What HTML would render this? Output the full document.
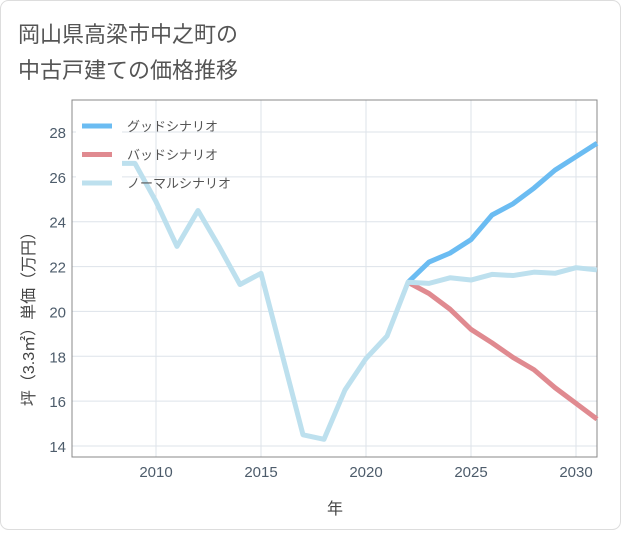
<!DOCTYPE html>
<html><head><meta charset="utf-8"><style>
body{margin:0;background:#fff;font-family:"Liberation Sans","Noto Sans CJK JP",sans-serif;}
</style></head><body>
<svg width="621" height="530" xmlns="http://www.w3.org/2000/svg" style="font-family:'Liberation Sans','Noto Sans CJK JP',sans-serif">
<rect x="0.5" y="0.5" width="620" height="529" rx="8" fill="#fff" stroke="#ddd"/>
<text x="18" y="42" font-size="22" fill="#555">岡山県高梁市中之町の</text>
<text x="18" y="78" font-size="22" fill="#555">中古戸建ての価格推移</text>
<g id="grid"></g>
<g id="axes"></g>
<g id="series"></g>
<g id="legend"></g>
<text x="335" y="514" font-size="16" fill="#444" text-anchor="middle">年</text>
<text transform="translate(34,315) rotate(-90)" font-size="16" fill="#444" text-anchor="middle">坪（3.3㎡）単価（万円）</text>
</svg>
<script>
const xTicks=[2010,2015,2020,2025,2030];
const yTicks=[14,16,18,20,22,24,26,28];
const normalYears=[2008,2009,2010,2011,2012,2013,2014,2015,2016,2017,2018,2019,2020,2021,2022,2023,2024,2025,2026,2027,2028,2029,2030,2031];
const normalVals=[26.6,26.6,24.9,22.9,24.5,22.9,21.2,21.7,18.1,14.5,14.3,16.5,17.9,18.9,21.3,21.25,21.5,21.4,21.65,21.6,21.75,21.7,21.95,21.85];
const futureYears=[2022,2023,2024,2025,2026,2027,2028,2029,2030,2031];
const goodVals=[21.3,22.2,22.6,23.2,24.3,24.8,25.5,26.3,26.9,27.5];
const badVals=[21.3,20.8,20.1,19.2,18.6,17.95,17.4,16.6,15.9,15.2];
const legendLabels=["グッドシナリオ","バッドシナリオ","ノーマルシナリオ"];
const L=72,R=597,T=100,B=457;
const X=y=>156+(y-2010)*21;
const Y=v=>446-(v-14)*(314/14);
const NS="http://www.w3.org/2000/svg";
function mk(p,t,a){const e=document.createElementNS(NS,t);for(const k in a)e.setAttribute(k,a[k]);document.getElementById(p).appendChild(e);return e;}
xTicks.forEach(t=>{const e=mk('grid','line',{x1:X(t),x2:X(t),y1:T,y2:B,stroke:'#dde3ea'});


const l=mk('axes','text',{x:X(t),y:B+20,'font-size':15,fill:'#4d5c6b','text-anchor':'middle'});l.textContent=t;

});
yTicks.forEach(t=>{const e=mk('grid','line',{x1:L,x2:R,y1:Y(t),y2:Y(t),stroke:'#dde3ea'});


const l=mk('axes','text',{x:L-6,y:Y(t)+6,'font-size':15,fill:'#4d5c6b','text-anchor':'end'});l.textContent=t;

});
const fr=mk('axes','rect',{x:L,y:T,width:R-L,height:B-T,fill:'none',stroke:'#888'});


function line(ys,vs,c,name){const d=ys.map((y,i)=>(i?'L':'M')+X(y)+','+Y(vs[i])).join(' ');
const p=mk('series','path',{d:d,fill:'none',stroke:c,'stroke-width':5,'stroke-linejoin':'round'});

}
line(futureYears,goodVals,'#6bbcf2','good-scenario-line');
line(futureYears,badVals,'#e08a90','bad-scenario-line');
line(normalYears,normalVals,'#bde0ee','normal-scenario-line');
const lb=mk('legend','rect',{x:76,y:110,width:46,height:86,fill:'#fff'});


const cols=['#6bbcf2','#e08a90','#bde0ee'];
legendLabels.forEach((s,i)=>{const y=126+i*28.5;
const sw=mk('legend','line',{x1:82,x2:112,y1:y,y2:y,stroke:cols[i],'stroke-width':5});


const t=mk('legend','text',{x:127,y:y+5,'font-size':13,fill:'#555'});t.textContent=s;

});
</script>
</body></html>
